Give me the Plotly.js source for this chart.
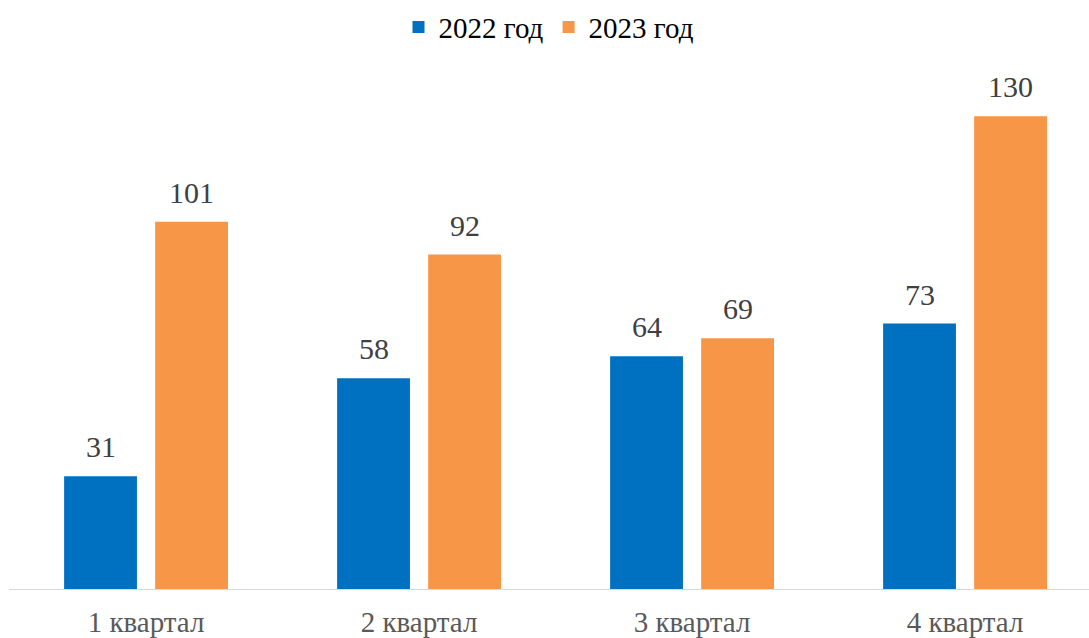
<!DOCTYPE html>
<html>
<head>
<meta charset="utf-8">
<script src="https://cdn.plot.ly/plotly-3.0.1.min.js"></script>
</head>
<body style="margin:0">
<div id="chart"></div>
<script>
var categories = ["1 квартал", "2 квартал", "3 квартал", "4 квартал"];
var seriesNames = ["2022 год", "2023 год"];
var values2022 = [31, 58, 64, 73];
var values2023 = [101, 92, 69, 130];

var colors = ["#0070C0", "#F79646"];

var traces = [
  {type: "bar", name: seriesNames[0], x: categories, y: values2022, marker: {color: colors[0]}, hoverinfo: "none"},
  {type: "bar", name: seriesNames[1], x: categories, y: values2023, marker: {color: colors[1]}, hoverinfo: "none"}
];

var annotations = [];
[values2022, values2023].forEach(function (vals, si) {
  vals.forEach(function (v, i) {
    annotations.push({
      x: categories[i], y: v, xref: "x", yref: "y",
      text: String(v), showarrow: false,
      xanchor: "center", yanchor: "bottom",
      xshift: si === 0 ? -45.5 : 45.5, yshift: 11,
      font: {size: 30, color: "#404040"}
    });
  });
});

var layout = {
  width: 1089, height: 638,
  margin: {l: 9, r: 0, t: 80, b: 49, pad: 0},
  barmode: "group", bargap: 0.333, bargroupgap: 0.2,
  font: {family: "serif", size: 29, color: "#595959"},
  showlegend: true,
  legend: {orientation: "h", x: 0.5, xanchor: "center", y: 1.104, yanchor: "middle",
           font: {size: 29, color: "#000"}, itemwidth: 30},
  xaxis: {type: "category", range: [-0.502, 3.454], showline: true, linecolor: "#d9d9d9", linewidth: 1,
          ticks: "", showgrid: false, zeroline: false, ticklabelstandoff: 7},
  yaxis: {range: [0, 140], visible: false},
  annotations: annotations
};

Plotly.newPlot("chart", traces, layout, {displayModeBar: false});
</script>
</body>
</html>
